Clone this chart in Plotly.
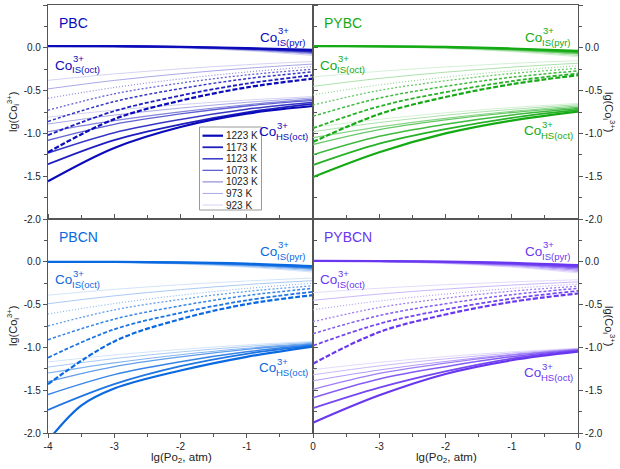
import plotly.graph_objects as go
from plotly.subplots import make_subplots

# ---------------- data ----------------
x_grid = [-4, -3, -2, -1, 0]
x_grid_steep = [-4, -3.5, -3, -2, -1, 0]
temps = [923, 973, 1023, 1073, 1123, 1173, 1223]
legend_labels = ["923 K", "973 K", "1023 K", "1073 K", "1123 K", "1173 K", "1223 K"]
panel_names = ["PBC", "PYBC", "PBCN", "PYBCN"]
x_tick_vals_left = [-4, -3, -2, -1, 0]
x_tick_text_left = ["-4", "-3", "-2", "-1", "0"]
x_tick_vals_right = [-3, -2, -1, 0]
x_tick_text_right = ["-3", "-2", "-1", "0"]
y_tick_vals_top = [0.5, 0, -0.5, -1, -1.5, -2]
y_tick_text_top = ["0.5", "0.0", "-0.5", "-1.0", "-1.5", "-2.0"]
y_tick_vals_bottom = [0, -0.5, -1, -1.5, -2]
y_tick_text_bottom = ["0.0", "-0.5", "-1.0", "-1.5", "-2.0"]

# rows: 923 K ... 1223 K ; columns: lg(Po2) = -4, -3, -2, -1, 0
pbc_pyr = [
    [0.02, 0.012, -0.005, -0.035, -0.09],
    [0.02, 0.014, 0.0, -0.027, -0.075],
    [0.02, 0.015, 0.003, -0.021, -0.065],
    [0.02, 0.016, 0.006, -0.016, -0.055],
    [0.02, 0.017, 0.008, -0.012, -0.045],
    [0.02, 0.018, 0.010, -0.008, -0.035],
    [0.02, 0.019, 0.012, -0.004, -0.025],
]
pbc_oct = [
    [-0.38, -0.305, -0.246, -0.197, -0.16],
    [-0.48, -0.381, -0.303, -0.239, -0.19],
    [-0.59, -0.464, -0.364, -0.283, -0.22],
    [-0.73, -0.538, -0.413, -0.317, -0.25],
    [-0.86, -0.628, -0.477, -0.361, -0.28],
    [-1.02, -0.74, -0.558, -0.418, -0.32],
    [-1.22, -0.833, -0.618, -0.463, -0.36],
]
pbc_hs = [
    [-0.81, -0.728, -0.664, -0.611, -0.57],
    [-0.89, -0.786, -0.704, -0.637, -0.585],
    [-0.98, -0.851, -0.748, -0.665, -0.60],
    [-1.08, -0.894, -0.773, -0.68, -0.615],
    [-1.23, -0.992, -0.837, -0.718, -0.635],
    [-1.36, -1.078, -0.895, -0.754, -0.655],
    [-1.56, -1.17, -0.925, -0.77, -0.68],
]

pybc_pyr = [
    [0.02, 0.010, -0.010, -0.045, -0.105],
    [0.02, 0.012, -0.005, -0.037, -0.09],
    [0.02, 0.014, 0.0, -0.029, -0.075],
    [0.02, 0.015, 0.003, -0.023, -0.065],
    [0.02, 0.016, 0.006, -0.018, -0.055],
    [0.02, 0.017, 0.008, -0.013, -0.045],
    [0.02, 0.018, 0.010, -0.008, -0.035],
]
pybc_oct = [
    [-0.34, -0.275, -0.224, -0.182, -0.15],
    [-0.45, -0.358, -0.285, -0.226, -0.18],
    [-0.55, -0.434, -0.343, -0.268, -0.21],
    [-0.67, -0.498, -0.386, -0.30, -0.24],
    [-0.80, -0.588, -0.45, -0.344, -0.27],
    [-0.94, -0.684, -0.518, -0.39, -0.30],
    [-1.10, -0.775, -0.575, -0.425, -0.32],
]
pybc_hs = [
    [-0.93, -0.835, -0.759, -0.698, -0.65],
    [-0.98, -0.873, -0.788, -0.719, -0.665],
    [-1.05, -0.924, -0.824, -0.743, -0.68],
    [-1.13, -0.956, -0.843, -0.756, -0.695],
    [-1.25, -1.034, -0.894, -0.786, -0.71],
    [-1.37, -1.12, -0.95, -0.818, -0.725],
    [-1.51, -1.22, -1.0, -0.85, -0.745],
]

pbcn_pyr = [
    [0.0, -0.008, -0.027, -0.063, -0.12],
    [0.0, -0.006, -0.022, -0.054, -0.105],
    [0.0, -0.005, -0.018, -0.045, -0.09],
    [0.0, -0.004, -0.015, -0.039, -0.08],
    [0.0, -0.003, -0.012, -0.033, -0.07],
    [0.0, -0.002, -0.009, -0.027, -0.06],
    [0.0, -0.001, -0.006, -0.021, -0.05],
]
pbcn_oct = [
    [-0.39, -0.322, -0.268, -0.224, -0.19],
    [-0.49, -0.398, -0.325, -0.266, -0.22],
    [-0.61, -0.488, -0.39, -0.311, -0.25],
    [-0.75, -0.562, -0.44, -0.346, -0.28],
    [-0.91, -0.67, -0.514, -0.394, -0.31],
    [-1.12, -0.789, -0.596, -0.45, -0.35],
    [-1.43, -0.93, -0.67, -0.494, -0.39],
]
pbcn_hs = [
    [-1.17, -1.088, -1.024, -0.971, -0.93],
    [-1.23, -1.131, -1.053, -0.989, -0.94],
    [-1.30, -1.181, -1.086, -1.01, -0.95],
    [-1.40, -1.224, -1.11, -1.022, -0.96],
    [-1.55, -1.318, -1.167, -1.051, -0.97],
    [-1.73, -1.43, -1.22, -1.075, -0.98],
]
pbcn_hs_1223 = [-2.09, -1.68, -1.48, -1.27, -1.11, -0.99]  # on x_grid_steep

pybcn_pyr = [
    [0.01, 0.0, -0.022, -0.062, -0.13],
    [0.01, 0.002, -0.017, -0.053, -0.115],
    [0.01, 0.004, -0.012, -0.044, -0.10],
    [0.01, 0.005, -0.008, -0.036, -0.085],
    [0.01, 0.006, -0.004, -0.028, -0.07],
    [0.01, 0.007, 0.0, -0.02, -0.055],
    [0.01, 0.008, 0.003, -0.012, -0.04],
]
pybcn_oct = [
    [-0.36, -0.309, -0.268, -0.235, -0.21],
    [-0.45, -0.377, -0.319, -0.272, -0.235],
    [-0.56, -0.458, -0.377, -0.311, -0.26],
    [-0.70, -0.534, -0.426, -0.343, -0.285],
    [-0.84, -0.628, -0.49, -0.384, -0.31],
    [-0.98, -0.724, -0.558, -0.43, -0.34],
    [-1.19, -0.821, -0.616, -0.468, -0.37],
]
pybcn_hs = [
    [-1.26, -1.175, -1.107, -1.052, -1.01],
    [-1.32, -1.216, -1.134, -1.067, -1.015],
    [-1.39, -1.264, -1.164, -1.083, -1.02],
    [-1.49, -1.304, -1.183, -1.09, -1.025],
    [-1.59, -1.37, -1.225, -1.108, -1.03],
    [-1.71, -1.47, -1.28, -1.13, -1.04],
    [-1.88, -1.56, -1.31, -1.15, -1.05],
]

# ---------------- styles ----------------
base_colors = [(10, 10, 185), (20, 170, 20), (10, 105, 225), (105, 55, 240)]
alphas = [0.2, 0.35, 0.5, 0.65, 0.82, 0.92, 1.0]
widths = [0.9, 1.0, 1.1, 1.3, 1.5, 1.8, 2.2]
oct_dash = ["solid", "solid", "1px,2px", "2px,2px", "3px,2px", "4px,2px", "5px,2px"]
AX = "#555555"
FONT = "Liberation Sans, Arial, sans-serif"


def mix(rgb, a):
    r, g, b = rgb
    return "rgb(%d,%d,%d)" % (round(r * a + 255 * (1 - a)), round(g * a + 255 * (1 - a)), round(b * a + 255 * (1 - a)))


fig = make_subplots(rows=2, cols=2, horizontal_spacing=0, vertical_spacing=0)

panels = [
    (pbc_pyr, pbc_oct, pbc_hs, 1, 1),
    (pybc_pyr, pybc_oct, pybc_hs, 1, 2),
    (pbcn_pyr, pbcn_oct, pbcn_hs, 2, 1),
    (pybcn_pyr, pybcn_oct, pybcn_hs, 2, 2),
]

for p, (pyr, octs, hs, r, c) in enumerate(panels):
    base = base_colors[p]
    for i in range(len(temps)):
        col = mix(base, alphas[i])
        w = widths[i]
        fig.add_trace(go.Scatter(x=x_grid, y=octs[i], mode="lines",
                                 line=dict(color=col, width=w, dash=oct_dash[i], shape="spline"),
                                 hoverinfo="skip", showlegend=False), row=r, col=c)
        if i < len(hs):
            hx, hy = x_grid, hs[i]
        else:
            hx, hy = x_grid_steep, pbcn_hs_1223
        fig.add_trace(go.Scatter(x=hx, y=hy, mode="lines",
                                 line=dict(color=col, width=w, shape="spline"),
                                 hoverinfo="skip", showlegend=False), row=r, col=c)
        fig.add_trace(go.Scatter(x=x_grid, y=pyr[i], mode="lines",
                                 line=dict(color=col, width=w, shape="spline"),
                                 hoverinfo="skip", showlegend=False), row=r, col=c)

# ---------------- axes ----------------
for p in range(4):
    r, c = p // 2 + 1, p % 2 + 1
    bottom = r == 2
    right = c == 2
    xa = dict(range=[-4, 0], showgrid=False, zeroline=False, showline=True, automargin=False,
              linecolor=AX, linewidth=1.2, tickfont=dict(size=10, color="#222", family=FONT))
    if bottom:
        xa.update(ticks="outside", ticklen=4, tickwidth=1, tickcolor=AX, mirror="ticks",
                  tickvals=x_tick_vals_right if right else x_tick_vals_left,
                  ticktext=x_tick_text_right if right else x_tick_text_left,
                  minor=dict(dtick=0.5, ticks="outside", ticklen=2.5, tickcolor=AX, tickwidth=1))
    else:
        xa.update(ticks="", showticklabels=False, mirror=True)
    ya = dict(range=[-2, 0.5], showgrid=False, zeroline=False, showline=True, automargin=False,
              linecolor=AX, linewidth=1.2, ticks="outside", ticklen=4, tickwidth=1, tickcolor=AX,
              tickvals=y_tick_vals_bottom if bottom else y_tick_vals_top,
              ticktext=y_tick_text_bottom if bottom else y_tick_text_top,
              tickfont=dict(size=10, color="#222", family=FONT),
              minor=dict(dtick=0.25, ticks="outside", ticklen=2.5, tickcolor=AX, tickwidth=1))
    if right:
        ya.update(side="right", mirror=True)
    else:
        ya.update(mirror="ticks")
    fig.update_xaxes(xa, row=r, col=c)
    fig.update_yaxes(ya, row=r, col=c)

# ---------------- annotations ----------------
W, H = 620, 469
ML, MR, MT, MB = 48, 42, 5, 36
PW, PH = W - ML - MR, H - MT - MB


def px2x(px):
    return (px - ML) / PW


def py2y(py):
    return 1 - (py - MT) / PH


annotations = []
panel_x0 = [48.3, 313.3, 48.3, 313.3]
panel_y0 = [5, 5, 219, 219]
hs_dy = [126, 125, 148, 153]


def txt(px, py, text, size, color, xanchor="left", angle=0):
    annotations.append(dict(x=px2x(px), y=py2y(py), xref="paper", yref="paper", text=text,
                            showarrow=False, xanchor=xanchor, yanchor="middle", textangle=angle,
                            borderpad=0, font=dict(size=size, color=color, family=FONT)))


def co_label(px, py, sub, color):
    txt(px, py, "Co", 13.5, color)
    txt(px + 17.5, py - 6, "3+", 9.5, color)
    txt(px + 17, py + 5, sub, 9.5, color)


for p in range(4):
    col = mix(base_colors[p], 1.0)
    x0, y0 = panel_x0[p], panel_y0[p]
    txt(x0 + 10, y0 + 18, panel_names[p], 14, col)
    co_label(x0 + 211, y0 + 32, "IS(pyr)", col)
    co_label(x0 + 6, y0 + 60, "IS(oct)", col)
    co_label(x0 + 210, y0 + hs_dy[p], "HS(oct)", col)

ytitle = "lg(Co<sub>i</sub><sup>3+</sup>)"
for py in (112, 326):
    txt(13, py, ytitle, 11, "#222", xanchor="center", angle=-90)
    txt(609, py, ytitle, 11, "#222", xanchor="center", angle=90)
for px in (181, 446):
    txt(px, 458, "lg(Po<sub>2</sub>, atm)", 11.5, "#222", xanchor="center")

# manual legend (PBC panel)
shapes = [dict(type="rect", xref="paper", yref="paper", x0=px2x(199.5), x1=px2x(261.5),
               y0=py2y(210), y1=py2y(127), line=dict(color="#999", width=1), fillcolor="white")]
for k in range(len(temps)):
    i = len(temps) - 1 - k
    py = 135.7 + 11.55 * k
    shapes.append(dict(type="line", xref="paper", yref="paper", x0=px2x(202.5), x1=px2x(223),
                       y0=py2y(py), y1=py2y(py),
                       line=dict(color=mix(base_colors[0], alphas[i]), width=widths[i])))
    txt(225, py, legend_labels[i], 10, "#222")

fig.update_layout(width=W, height=H, margin=dict(l=ML, r=MR, t=MT, b=MB, autoexpand=False),
                  plot_bgcolor="white", paper_bgcolor="white", showlegend=False,
                  font=dict(family=FONT), annotations=annotations, shapes=shapes)

fig.write_html("out.html", config={"displayModeBar": False},
               post_script="document.body.style.margin='0px';document.body.style.overflow='hidden';")
